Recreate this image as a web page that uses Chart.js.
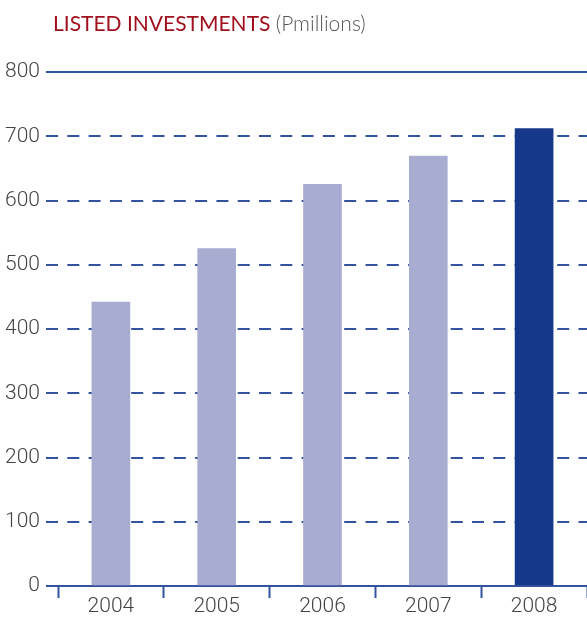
<!DOCTYPE html>
<html>
<head>
<meta charset="utf-8">
<script src="https://cdn.jsdelivr.net/npm/chart.js@4"></script>
<style>
  html, body { margin: 0; padding: 0; background: #ffffff; }
  #wrap { position: relative; width: 587px; height: 623px; }
  #title {
    position: absolute; left: 53px; top: 10px;
    font-family: Lato, "Open Sans", sans-serif; font-size: 21px; white-space: nowrap;
  }
  #title .main { color: #a0101e; font-weight: 400; }
  #title .unit { color: #555555; font-weight: 300; }
</style>
</head>
<body>
<div id="wrap">
  <canvas id="chart" width="587" height="623"></canvas>
  <div id="title"><span class="main">LISTED INVESTMENTS</span> <span class="unit">(Pmillions)</span></div>
</div>
<script>
// Listed investments by year, in P millions
const years = ['2004', '2005', '2006', '2007', '2008'];
const values = [442, 525, 625, 669, 712];
const yTicks = [0, 100, 200, 300, 400, 500, 600, 700, 800];
const solidRules = [0, 800];

const lineBlue = '#34539f';
const pastBar = '#a8acd1';
const currentBar = '#15388a';
const textGrey = '#444444';
const tickFont = { family: 'Roboto, Lato, sans-serif', size: 21, weight: '300' };

// Solid rules for the baseline and the top of the value axis
const solidRulePlugin = {
  id: 'solidRules',
  beforeDatasetsDraw(chart) {
    const { ctx, chartArea, scales } = chart;
    const tickLen = scales.y.options.grid.tickLength;
    ctx.save();
    ctx.strokeStyle = lineBlue;
    ctx.lineWidth = 2;
    ctx.setLineDash([]);
    solidRules.forEach(v => {
      const y = Math.round(scales.y.getPixelForValue(v));
      ctx.beginPath();
      ctx.moveTo(chartArea.left - tickLen, y);
      ctx.lineTo(chartArea.right, y);
      ctx.stroke();
    });
    ctx.restore();
  }
};

new Chart(document.getElementById('chart'), {
  type: 'bar',
  data: {
    labels: years,
    datasets: [{
      data: values,
      backgroundColor: years.map((y, i) => i === years.length - 1 ? currentBar : pastBar),
      barThickness: 38,
      borderWidth: 0
    }]
  },
  plugins: [solidRulePlugin],
  options: {
    responsive: false,
    animation: false,
    events: [],
    layout: { padding: { top: 72, right: 0, left: 0, bottom: 0 } },
    plugins: { legend: { display: false }, title: { display: false }, tooltip: { enabled: false } },
    scales: {
      x: {
        border: { display: false },
        grid: {
          offset: true,
          drawOnChartArea: false,
          drawTicks: true,
          tickLength: 12,
          tickColor: lineBlue,
          tickWidth: 2,
          tickBorderDash: []
        },
        ticks: { color: textGrey, font: tickFont, padding: -4, maxRotation: 0 },
        afterFit: s => { s.height = 37; }
      },
      y: {
        min: 0,
        max: 800,
        // dashed horizontal grid (v4 takes the grid dash from the border options)
        border: { display: false, dash: [12, 9.3], dashOffset: 12 },
        afterBuildTicks: s => { s.ticks = yTicks.map(v => ({ value: v })); },
        afterFit: s => { s.width = 58; },
        grid: {
          color: lineBlue,
          lineWidth: 2,
          tickLength: 12,
          tickColor: lineBlue,
          tickWidth: 2,
          tickBorderDash: []
        },
        ticks: { color: textGrey, font: tickFont, padding: 6 }
      }
    }
  }
});
</script>
</body>
</html>
